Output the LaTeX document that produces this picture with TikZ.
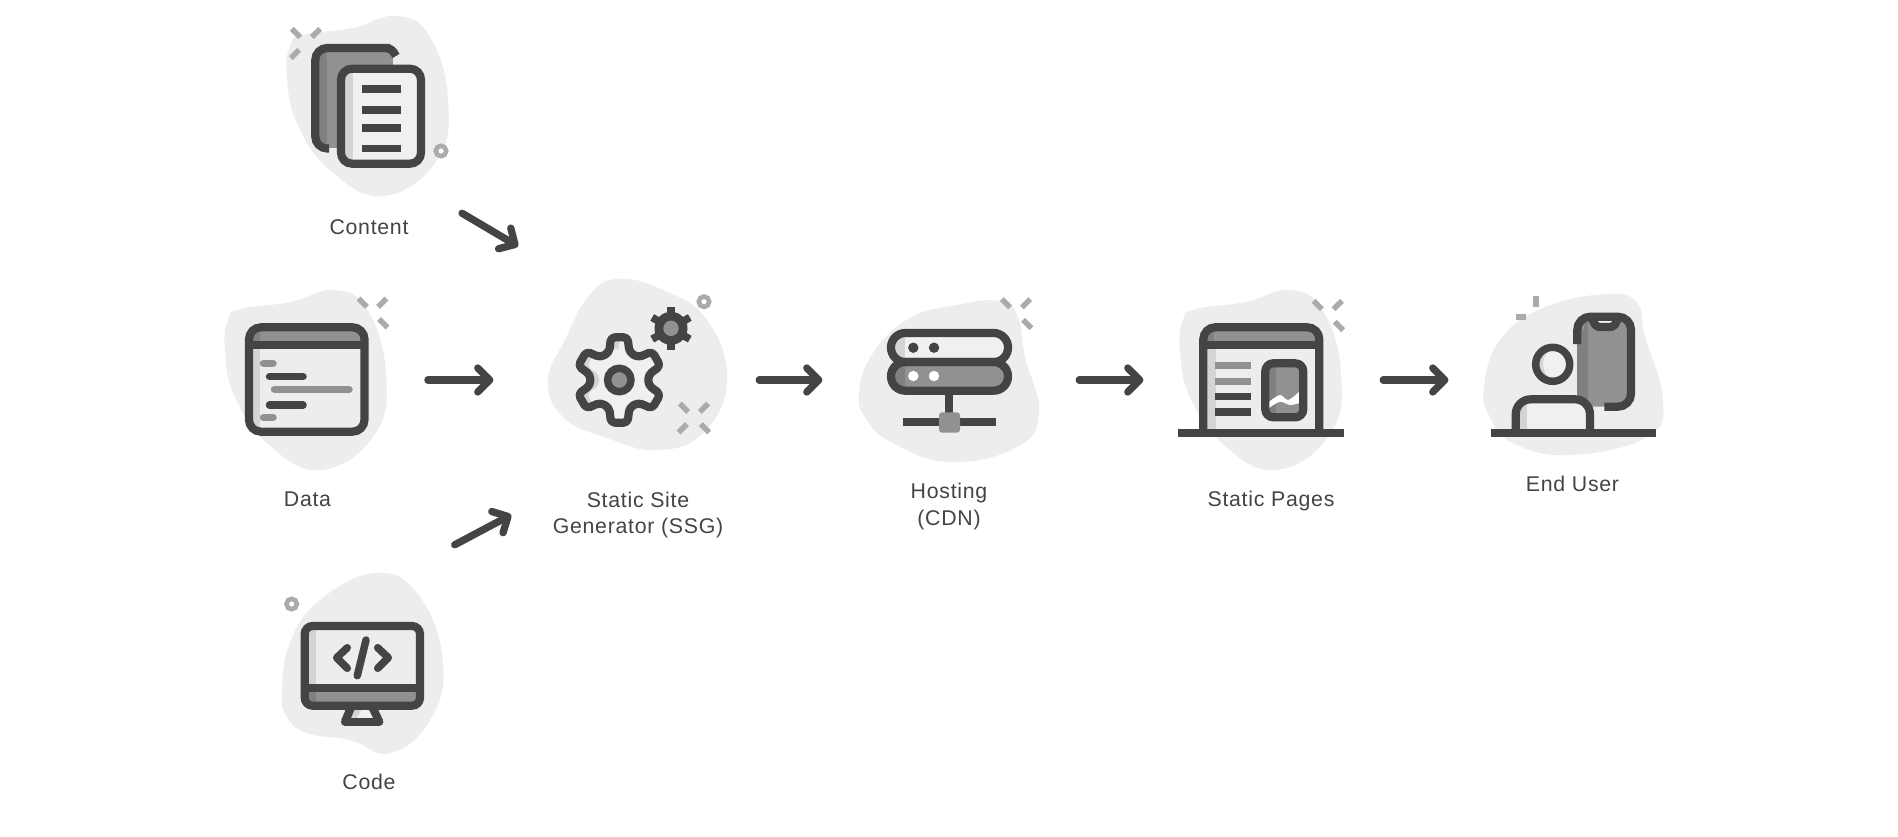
\documentclass[tikz,border=0pt]{standalone}
\usepackage{fontspec}
\setmainfont[LetterSpace=3.4]{Liberation Sans}
\usetikzlibrary{arrows.meta}
\definecolor{ink}{HTML}{444444}
\definecolor{midg}{HTML}{919191}
\definecolor{darkg}{HTML}{808080}
\definecolor{blobg}{HTML}{EDEDED}
\definecolor{panel}{HTML}{F0F0F0}
\definecolor{shadeg}{HTML}{D4D4D4}
\definecolor{tickg}{HTML}{ABABAB}
\pgfdeclarearrow{
  name=VeeTip,
  setup code={\pgfarrowssetlineend{-2pt}\pgfarrowssettipend{0pt}\pgfarrowssetbackend{-12pt}\pgfarrowssetvisualbackend{-12pt}\pgfarrowshullpoint{0pt}{0pt}\pgfarrowshullpoint{-12pt}{12pt}\pgfarrowshullpoint{-12pt}{-12pt}},
  drawing code={\pgfsetdash{}{0pt}\pgfsetroundcap\pgfsetroundjoin
    \pgfpathmoveto{\pgfpoint{-12pt}{12pt}}\pgfpathlineto{\pgfpointorigin}\pgfpathlineto{\pgfpoint{-12pt}{-12pt}}\pgfusepathqstroke},
}
\tikzset{
  x=1pt,y=-1pt,
  stroke/.style={draw=ink,line width=8.2pt},
  thin stroke/.style={draw=ink,line width=7.5pt,line cap=round},
  blob/.style={fill=blobg,draw=none},
  tickline/.style={draw=tickg,line width=5.4pt},
  tickdr/.pic={\draw[tickline] (-4.2,-4.2)--(4.2,4.2);},
  tickur/.pic={\draw[tickline] (-4.2,4.2)--(4.2,-4.2);},
  ringm/.pic={\draw[draw=tickg,line width=4.6pt,fill=white] (0,0) circle[radius=5.2];},
  blobA/.pic={\fill[blob] plot[smooth cycle,tension=0.75] coordinates {(287,77)(290,46)(303,35)(353,28)(397,16)(430,37)(448,100)(437,160)(383,196)(330,170)(297,123)};},
  lbl/.style={text=ink,font=\fontsize{21.3}{26.5}\selectfont,align=center,inner sep=0pt},
  anchorbox/.style={inner sep=0pt,minimum height=10pt,draw=none},
  flow/.style={draw=ink,line width=7.3pt,line cap=round,-VeeTip},
}
\begin{document}
\begin{tikzpicture}
\useasboundingbox (0,0) rectangle (1898,836);
\fill[white] (0,0) rectangle (1898,836);

% ---------- Content
\pic at (0,0) {blobA};
\pic at (296,33) {tickdr};
\pic at (316,33) {tickur};
\pic at (295,54) {tickur};
\pic at (441,151) {ringm};
\fill[midg] (319,48) rectangle (393,148);
\fill[darkg] (319,50) rectangle (327,148);
\draw[stroke,rounded corners=12pt] (329,148.5) -- (315.3,148.5) -- (315.3,48) -- (390,48);
\draw[stroke] (385,48) .. controls (390,48) and (393,50) .. (396,56);
\fill[panel,rounded corners=11pt] (341,68.7) rectangle (421,163.7);
\begin{scope}
\clip[rounded corners=11pt] (341,68.7) rectangle (421,163.7);
\fill[shadeg] (341,68.7) rectangle (353,163.7);
\end{scope}
\draw[stroke,rounded corners=11pt] (341,68.7) rectangle (421,163.7);
\foreach \yy in {89,109.7,127.7,148.3} \fill[ink] (362,\yy-3.8) rectangle (400.7,\yy+3.8);
\node[lbl] (contentlabel) at (369,227) {Content};

% ---------- Data
\pic at (-62,274) {blobA};
\pic at (362.7,302.7) {tickdr};
\pic at (382.3,302.7) {tickur};
\pic at (383.3,323.3) {tickdr};
\begin{scope}
\clip[rounded corners=12pt] (249,327.3) rectangle (364.5,431.7);
\fill[blobg] (249,327) rectangle (365,432);
\fill[shadeg] (249,345) rectangle (260,432);
\fill[midg] (249,327) rectangle (365,345.3);
\fill[darkg] (249,327) rectangle (260,345.3);
\end{scope}
\draw[stroke,rounded corners=12pt] (249,327.3) rectangle (364.5,431.7);
\draw[stroke] (246,345.3) -- (367.5,345.3);
\draw[thin stroke,midg] (263.5,363.3) -- (273,363.3);
\draw[thin stroke] (269.5,376.7) -- (303,376.7);
\draw[thin stroke,midg] (274.5,389.3) -- (349,389.3);
\draw[thin stroke] (269.5,405) -- (303,405);
\draw[thin stroke,midg] (263.5,417.7) -- (273,417.7);
\node[lbl] (datalabel) at (307.5,499) {Data};

% ---------- SSG
\fill[blob] plot[smooth cycle,tension=0.75] coordinates {(548,380)(565,340)(588,297)(617,279)(663,290)(707,320)(727,380)(703,433)(657,450)(607,438)(563,417)};
\pic at (704,301.7) {ringm};
\pic at (684,407.7) {tickdr};
\pic at (704,407.7) {tickur};
\pic at (682.7,428.3) {tickur};
\pic at (705,428.3) {tickdr};
\begin{scope}[shift={(619.3,380)}]
  \def\gear{(70:29.5) -- (79:43.5) -- (101:43.5) -- (110:29.5) -- (130:29.5) -- (139:43.5) -- (161:43.5) -- (170:29.5) -- (190:29.5) -- (199:43.5) -- (221:43.5) -- (230:29.5) -- (250:29.5) -- (259:43.5) -- (281:43.5) -- (290:29.5) -- (310:29.5) -- (319:43.5) -- (341:43.5) -- (350:29.5) -- (10:29.5) -- (19:43.5) -- (41:43.5) -- (50:29.5) -- cycle}
  \fill[shadeg,rounded corners=4pt] \gear;
  \begin{scope}
    \clip[rounded corners=4pt] \gear;
    \fill[panel,rounded corners=4pt,shift={(9,0)}] \gear;
    \fill[panel] (-14,-31) rectangle (60,50);
  \end{scope}
  \draw[stroke,line join=round,rounded corners=4pt] \gear;
  \draw[draw=ink,line width=7.5pt,fill=midg] (0,0) circle[radius=11.7];
\end{scope}
\begin{scope}[shift={(671,328.3)}]
  \foreach \a in {90,30,-30} \draw[draw=ink,line width=7.6pt] (\a:21.7) -- (\a+180:21.7);
  \fill[ink] (0,0) circle[radius=16.5];
  \fill[midg] (0,0) circle[radius=7.7];
\end{scope}
\node[lbl] (ssglabel) at (638,515) {Static Site\\Generator (SSG)};

% ---------- Hosting
\fill[blob] plot[smooth cycle,tension=0.75] coordinates {(859,393)(873,353)(910,318)(957,305)(1000,301)(1018,317)(1025,357)(1039,413)(1017,447)(950,462)(893,443)(867,420)};
\pic at (1006,303.3) {tickdr};
\pic at (1026,303.3) {tickur};
\pic at (1027.3,324) {tickdr};
\begin{scope}
\clip[rounded corners=14.3pt] (891,333) rectangle (1008,362);
\fill[panel] (891,333) rectangle (1008,362);
\fill[shadeg] (891,333) rectangle (905,362);
\end{scope}
\begin{scope}
\clip[rounded corners=14.3pt] (891,362) rectangle (1008,390.7);
\fill[midg] (891,362) rectangle (1008,391);
\fill[darkg] (891,362) rectangle (905,391);
\end{scope}
\draw[stroke,rounded corners=14.3pt] (891,333) rectangle (1008,362);
\draw[stroke,rounded corners=14.3pt] (891,362) rectangle (1008,390.7);
\fill[ink] (913.3,347.7) circle[radius=5.2];
\fill[ink] (934,347.7) circle[radius=5.2];
\fill[white] (913.3,376) circle[radius=5.2];
\fill[white] (934,376) circle[radius=5.2];
\draw[stroke] (949.3,390) -- (949.3,422.3);
\draw[stroke] (902.7,422.3) -- (996,422.3);
\fill[midg,rounded corners=3pt] (939,412.3) rectangle (960,432.7);
\node[lbl] (hostinglabel) at (949,506.5) {Hosting\\(CDN)};

% ---------- Static Pages
\pic at (893,274) {blobA};
\pic at (1317.7,305) {tickdr};
\pic at (1337.7,305) {tickur};
\pic at (1339,326) {tickdr};
\begin{scope}
\clip[rounded corners=12pt] (1203.3,327.3) rectangle (1319.3,438);
\fill[blobg] (1203,327) rectangle (1320,433);
\fill[shadeg] (1203,345) rectangle (1216,433);
\fill[midg] (1203,327) rectangle (1320,345.3);
\fill[darkg] (1203,327) rectangle (1214,345.3);
\end{scope}
\draw[stroke,rounded corners=12pt] (1203.3,432.7) -- (1203.3,327.3) -- (1319.3,327.3) -- (1319.3,432.7);
\draw[stroke] (1200,345.3) -- (1322.5,345.3);
\draw[stroke] (1178.3,432.7) -- (1344,432.7);
\foreach \yy/\cc in {365.7/midg,381.3/midg,396.7/ink,412/ink} \fill[\cc] (1215,\yy-3.7) rectangle (1251,\yy+3.7);
\begin{scope}
\clip[rounded corners=8pt] (1265.3,363.3) rectangle (1303.3,417.3);
\fill[midg] (1265,363) rectangle (1304,418);
\fill[darkg] (1265,363) rectangle (1276,418);
\fill[white] plot[smooth] coordinates {(1269,401.7)(1280,395)(1288.3,400)(1299.3,391.7)} -- plot[smooth] coordinates {(1299.3,403)(1290,405)(1280,401.7)(1269,408)} -- cycle;
\end{scope}
\draw[stroke,rounded corners=8pt] (1265.3,363.3) rectangle (1303.3,417.3);
\node[lbl] (pageslabel) at (1271,501) {Static Pages};

% ---------- End User
\fill[blob] plot[smooth cycle,tension=0.75] coordinates {(1484,387)(1500,340)(1543,308)(1607,294)(1637,303)(1645,337)(1663,400)(1647,437)(1570,455)(1513,443)(1490,417)};
\fill[tickg] (1533,296) rectangle (1538.5,306.5);
\fill[tickg] (1515.5,314.3) rectangle (1526,319.8);
\fill[midg,rounded corners=12pt] (1577.3,316.7) rectangle (1631,406.7);
\fill[darkg] (1577.3,330) rectangle (1588.3,406.7);
\fill[darkg] (1584,320) rectangle (1588.3,330);
\fill[panel] (1592,316.7) -- (1598,325) -- (1612,325) -- (1618,316.7) -- cycle;
\draw[stroke,rounded corners=13pt] (1577.3,344) -- (1577.3,316.7) -- (1631,316.7) -- (1631,406.7) -- (1604.3,406.7);
\draw[stroke] (1591.7,316.7) .. controls (1594,325) and (1596,327) .. (1601,327) -- (1609,327) .. controls (1614,327) and (1616,325) .. (1618,316.7);
\begin{scope}
\clip (1552.7,364.3) circle[radius=17];
\fill[shadeg] (1552.7,364.3) circle[radius=17];
\fill[panel] (1560,364.3) circle[radius=17];
\end{scope}
\draw[draw=ink,line width=7.5pt] (1552.7,364.3) circle[radius=17];
\begin{scope}
\clip[rounded corners=15pt] (1515.7,432.7) -- (1515.7,399.3) -- (1590,399.3) -- (1590,432.7) -- cycle;
\fill[panel] (1515,399) rectangle (1590,433);
\fill[shadeg] (1515,399) rectangle (1526.7,433);
\end{scope}
\draw[stroke,rounded corners=15pt] (1515.7,432.7) -- (1515.7,399.3) -- (1590,399.3) -- (1590,432.7);
\draw[stroke] (1490.7,432.7) -- (1655.7,432.7);
\node[lbl] (userlabel) at (1572.5,484) {End User};

% ---------- Code
\fill[blob] plot[smooth cycle,tension=0.75] coordinates {(282,693)(290,643)(320,600)(377,573)(420,597)(443,663)(430,720)(390,753)(350,740)(307,733)(287,717)};
\pic at (291.7,604) {ringm};
\begin{scope}
\clip[rounded corners=8pt] (304.7,626) rectangle (420,705.7);
\fill[blobg] (304,626) rectangle (420,688);
\fill[shadeg] (304,626) rectangle (316,688);
\fill[midg] (304,688) rectangle (420,706);
\fill[darkg] (304,688) rectangle (316,706);
\end{scope}
\fill[shadeg] (351.7,705.7) -- (345,721.7) -- (379.3,721.7) -- (371.7,705.7) -- cycle;
\fill[panel] (362,709) -- (355,721.7) -- (376,721.7) -- (371,709) -- cycle;
\draw[stroke,line join=round] (351.7,705.7) -- (345,721.7);
\draw[stroke,line join=round] (371.7,705.7) -- (379.3,721.7);
\draw[stroke,line cap=round] (345,721.7) -- (379.3,721.7);
\draw[stroke,rounded corners=8pt] (304.7,626) rectangle (420,705.7);
\draw[stroke] (302,687.7) -- (423,687.7);
\draw[thin stroke,line join=round] (347.3,647.7) -- (336.7,657.7) -- (347.3,668.3);
\draw[thin stroke,line join=round] (377.7,647.7) -- (388.3,657.7) -- (377.7,668.3);
\draw[thin stroke] (366,640) -- (357.3,675.7);
\node[lbl] (codelabel) at (369,782) {Code};

% ---------- Connector anchors (invisible)
\node[anchorbox,minimum width=170pt,minimum height=192pt] (content) at (376.8,117) {};
\node[anchorbox,minimum width=173pt,minimum height=212pt] (code) at (368,651) {};
\node[anchorbox,minimum width=200pt] (data) at (327.7,380) {};
\node[anchorbox,minimum width=269pt] (ssg) at (624.5,380) {};
\node[anchorbox,minimum width=260pt] (hosting) at (949,380) {};
\node[anchorbox,minimum width=243pt] (pages) at (1261.5,380) {};
\node[anchorbox,minimum width=200pt] (user) at (1545,380) {};
\coordinate (ssgtop) at (515,244.5);
\coordinate (ssgbot) at (508,516.5);

\draw[flow] (content.south east) -- (ssgtop);
\draw[flow] (code.north east) -- (ssgbot);
\draw[flow] (data) -- (ssg);
\draw[flow] (ssg) -- (hosting);
\draw[flow] (hosting) -- (pages);
\draw[flow] (pages) -- (user);
\end{tikzpicture}
\end{document}
